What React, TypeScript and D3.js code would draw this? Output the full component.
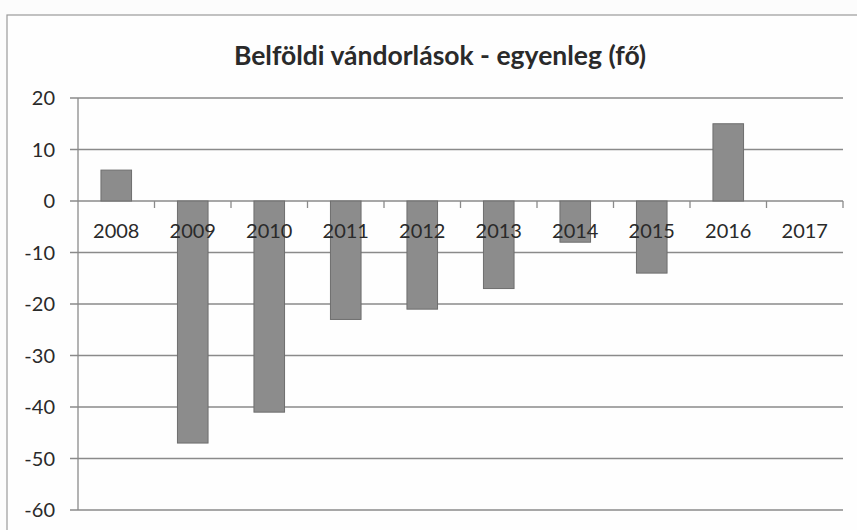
import { useEffect, useRef } from 'react';
import * as d3 from 'd3';

const years = ['2008', '2009', '2010', '2011', '2012', '2013', '2014', '2015', '2016', '2017'];
const balance = [6, -47, -41, -23, -21, -17, -8, -14, 15, 0];
const yTicks = [20, 10, 0, -10, -20, -30, -40, -50, -60];
const title = 'Belföldi vándorlások - egyenleg (fő)';

const W = 857;
const H = 530;

export default function App() {
  const svgRef = useRef<SVGSVGElement>(null);

  useEffect(() => {
    if (!svgRef.current) return;
    const svg = d3.select(svgRef.current);
    svg.selectAll('*').remove();

    const margin = { top: 98, right: 14, bottom: 20, left: 78 };
    const innerW = W - margin.left - margin.right;
    const innerH = H - margin.top - margin.bottom;
    const font = 'Lato, "Open Sans", sans-serif';

    // page + chart frame
    svg.append('rect').attr('width', W).attr('height', H).attr('fill', '#fcfcfc');
    svg.append('rect')
      .attr('x', 7).attr('y', 15)
      .attr('width', W - 6).attr('height', H - 10)
      .attr('fill', '#fefefe')
      .attr('stroke', '#9a9a9a')
      .attr('stroke-width', 1.2);

    svg.append('text')
      .attr('x', 440).attr('y', 65)
      .attr('text-anchor', 'middle')
      .attr('font-family', font)
      .attr('font-weight', 700)
      .attr('font-size', 26.5)
      .attr('fill', '#2a2a2a')
      .text(title);

    const x = d3.scaleBand().domain(years).range([0, innerW]).paddingInner(0.6).paddingOuter(0.3);
    const xOuter = d3.scaleBand().domain(years).range([0, innerW]);
    const y = d3.scaleLinear().domain([-60, 20]).range([innerH, 0]);

    const g = svg.append('g').attr('transform', `translate(${margin.left},${margin.top})`);

    // gridlines
    g.selectAll('line.grid')
      .data(yTicks)
      .join('line')
      .attr('class', 'grid')
      .attr('x1', -8).attr('x2', innerW)
      .attr('y1', d => y(d)).attr('y2', d => y(d))
      .attr('stroke', '#8a8a8a')
      .attr('stroke-width', 1.3);

    // y axis line
    g.append('line')
      .attr('x1', 0).attr('x2', 0)
      .attr('y1', 0).attr('y2', innerH)
      .attr('stroke', '#8a8a8a')
      .attr('stroke-width', 1.3);

    g.selectAll('text.ylab')
      .data(yTicks)
      .join('text')
      .attr('class', 'ylab')
      .attr('x', -23)
      .attr('y', d => y(d))
      .attr('dy', '0.35em')
      .attr('text-anchor', 'end')
      .attr('font-family', font)
      .attr('font-size', 20)
      .attr('fill', '#2a2a2a')
      .text(d => d);

    // bars
    g.selectAll('rect.bar')
      .data(balance)
      .join('rect')
      .attr('class', 'bar')
      .attr('x', (_, i) => x(years[i])!)
      .attr('width', x.bandwidth())
      .attr('y', d => y(Math.max(0, d)))
      .attr('height', d => Math.abs(y(d) - y(0)))
      .attr('fill', '#8c8c8c')
      .attr('stroke', '#6e6e6e')
      .attr('stroke-width', 1);

    // x axis tick marks at category boundaries
    g.selectAll('line.xtick')
      .data(years)
      .join('line')
      .attr('class', 'xtick')
      .attr('x1', d => xOuter(d)! + xOuter.bandwidth())
      .attr('x2', d => xOuter(d)! + xOuter.bandwidth())
      .attr('y1', y(0)).attr('y2', y(0) + 7)
      .attr('stroke', '#8a8a8a')
      .attr('stroke-width', 1.3);

    g.selectAll('text.xlab')
      .data(years)
      .join('text')
      .attr('class', 'xlab')
      .attr('x', d => xOuter(d)! + xOuter.bandwidth() / 2)
      .attr('y', y(0) + 30)
      .attr('dy', '0.35em')
      .attr('text-anchor', 'middle')
      .attr('font-family', font)
      .attr('font-size', 20)
      .attr('fill', '#2a2a2a')
      .text(d => d);
  }, []);

  return (
    <svg
      ref={svgRef}
      width={W}
      height={H}
      style={{ position: 'absolute', left: 0, top: 0, display: 'block' }}
    />
  );
}
